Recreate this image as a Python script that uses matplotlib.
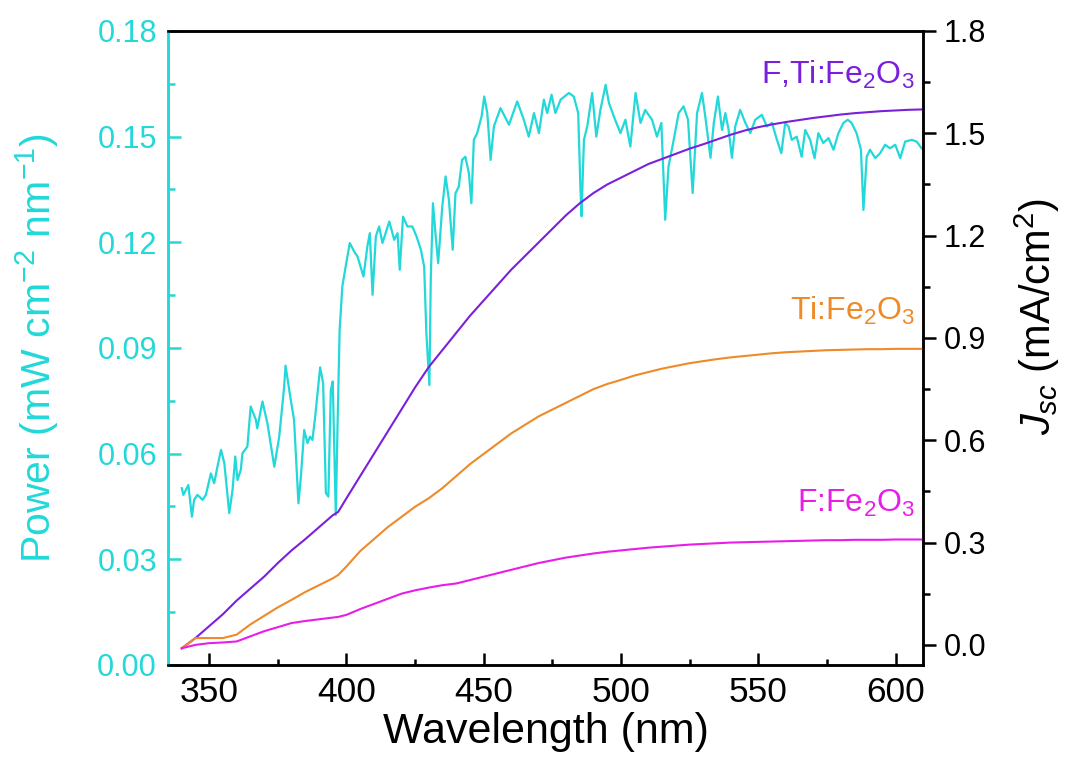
import numpy as np
import matplotlib
matplotlib.use('Agg')
import matplotlib.pyplot as plt
from matplotlib.ticker import MultipleLocator

plt.rcParams['font.family'] = ['Liberation Sans', 'DejaVu Sans']
plt.rcParams['mathtext.fontset'] = 'custom'
plt.rcParams['mathtext.rm'] = 'Liberation Sans'
plt.rcParams['mathtext.it'] = 'Liberation Sans:italic'

# Солнечный спектр
spec_wl = [340.0, 340.6, 341.5, 342.4, 343.7, 344.5, 345.7, 347.6, 348.8, 350.6,
           351.8, 353.0, 354.3, 355.5, 357.3, 358.5, 359.5, 360.3, 361.5, 362.1,
           363.9, 365.1, 367.0, 367.5, 369.4, 371.2, 373.7, 375.5, 377.3, 377.8,
           379.7, 380.9, 382.5, 383.4, 384.6, 385.8, 386.7, 387.6, 388.6, 390.4,
           391.5, 392.5, 393.4, 394.3, 395.0, 396.1, 396.8, 397.5, 398.5, 399.7,
           401.2, 402.8, 404.0, 406.2, 407.6, 408.5, 409.5, 410.7, 411.9, 413.1,
           415.6, 417.4, 418.6, 419.4, 420.6, 422.2, 424.0, 425.5, 427.1, 428.3,
           429.1, 430.2, 430.7, 431.5, 432.5, 433.4, 434.9, 436.1, 437.3, 438.7,
           439.7, 440.9, 442.1, 443.3, 444.6, 445.5, 446.4, 447.6, 449.2, 450.2,
           451.3, 452.5, 453.7, 456.1, 459.2, 462.2, 464.6, 466.4, 468.3, 470.1,
           471.9, 473.1, 474.7, 476.1, 478.0, 481.0, 482.8, 484.4, 485.2, 485.6,
           486.5, 487.7, 489.5, 491.0, 492.5, 494.4, 495.6, 497.4, 499.8, 501.6,
           503.4, 505.3, 507.1, 508.8, 511.3, 513.1, 514.7, 516.1, 517.3, 519.2,
           521.0, 522.8, 524.4, 526.1, 527.7, 529.5, 530.7, 532.6, 533.8, 535.3,
           536.8, 538.0, 539.2, 540.4, 541.6, 543.4, 545.3, 547.1, 548.9, 551.3,
           553.1, 555.0, 556.8, 558.4, 559.8, 561.0, 562.2, 564.0, 565.8, 567.1,
           568.9, 570.5, 571.9, 573.7, 575.6, 577.4, 579.2, 581.0, 582.6, 584.0,
           585.8, 587.4, 588.3, 589.5, 590.7, 592.6, 594.4, 596.2, 598.0, 599.9,
           601.7, 603.5, 605.9, 607.7, 609.5]
spec_power = [0.0502, 0.0483, 0.0497, 0.0511, 0.0421, 0.0469, 0.0483, 0.0469, 0.0483, 0.0544,
              0.0516, 0.0563, 0.0611, 0.0573, 0.0431, 0.0497, 0.0592, 0.0525, 0.0554, 0.0601,
              0.0620, 0.0734, 0.0696, 0.0672, 0.0748, 0.0686, 0.0563, 0.0648, 0.0790, 0.0850,
              0.0753, 0.0696, 0.0459, 0.0535, 0.0667, 0.0630, 0.0648, 0.0639, 0.0705, 0.0845,
              0.0800, 0.0488, 0.0478, 0.0781, 0.0805, 0.0426, 0.0700, 0.0950, 0.1075, 0.1131,
              0.1198, 0.1174, 0.1160, 0.1103, 0.1188, 0.1226, 0.1051, 0.1217, 0.1245, 0.1198,
              0.1259, 0.1207, 0.1226, 0.1122, 0.1273, 0.1245, 0.1245, 0.1217, 0.1179, 0.1131,
              0.0942, 0.0795, 0.1094, 0.1311, 0.1217, 0.1141, 0.1302, 0.1387, 0.1321, 0.1179,
              0.1339, 0.1358, 0.1434, 0.1443, 0.1396, 0.1311, 0.1491, 0.1510, 0.1557, 0.1614,
              0.1567, 0.1434, 0.1529, 0.1581, 0.1534, 0.1600, 0.1548, 0.1500, 0.1567, 0.1510,
              0.1605, 0.1567, 0.1619, 0.1567, 0.1605, 0.1624, 0.1614, 0.1567, 0.1359, 0.1274,
              0.1491, 0.1529, 0.1624, 0.1500, 0.1576, 0.1647, 0.1596, 0.1557, 0.1510, 0.1548,
              0.1472, 0.1624, 0.1539, 0.1576, 0.1548, 0.1500, 0.1539, 0.1264, 0.1415, 0.1491,
              0.1567, 0.1586, 0.1548, 0.1340, 0.1567, 0.1624, 0.1557, 0.1440, 0.1539, 0.1614,
              0.1519, 0.1567, 0.1519, 0.1440, 0.1529, 0.1576, 0.1539, 0.1510, 0.1548, 0.1562,
              0.1529, 0.1539, 0.1491, 0.1453, 0.1539, 0.1529, 0.1491, 0.1500, 0.1443, 0.1519,
              0.1491, 0.1439, 0.1510, 0.1482, 0.1496, 0.1463, 0.1510, 0.1539, 0.1548, 0.1539,
              0.1510, 0.1463, 0.1292, 0.1443, 0.1463, 0.1439, 0.1453, 0.1477, 0.1467, 0.1477,
              0.1439, 0.1486, 0.1491, 0.1486, 0.1467]

# Интегральный ток Jsc, мА/см^2
jsc_wl = [340, 345, 350, 355, 360, 365, 370, 375, 380, 385, 390, 395, 397, 400,
          405, 410, 415, 420, 425, 430, 435, 440, 445, 450, 455, 460, 465, 470,
          475, 480, 485, 490, 495, 500, 505, 510, 515, 520, 525, 530, 535, 540,
          545, 550, 555, 560, 565, 570, 575, 580, 585, 590, 595, 600, 605, 610]
jsc_fti = [-0.01, 0.02, 0.055, 0.09, 0.13, 0.165, 0.20, 0.24, 0.277, 0.31, 0.345, 0.38, 0.39, 0.43,
           0.495, 0.56, 0.625, 0.69, 0.755, 0.815, 0.865, 0.915, 0.965, 1.01, 1.055, 1.10, 1.14, 1.18,
           1.22, 1.26, 1.295, 1.325, 1.35, 1.37, 1.39, 1.41, 1.425, 1.44, 1.455, 1.468, 1.482, 1.496,
           1.508, 1.518, 1.526, 1.533, 1.539, 1.545, 1.55, 1.555, 1.559, 1.562, 1.565, 1.567, 1.569, 1.57]
jsc_ti = [-0.01, 0.02, 0.02, 0.02, 0.03, 0.06, 0.085, 0.11, 0.132, 0.155, 0.175, 0.195, 0.205, 0.23,
          0.275, 0.31, 0.345, 0.375, 0.405, 0.43, 0.46, 0.495, 0.53, 0.56, 0.59, 0.62, 0.645, 0.67,
          0.69, 0.71, 0.73, 0.75, 0.765, 0.777, 0.79, 0.80, 0.81, 0.818, 0.826, 0.832, 0.838, 0.843,
          0.847, 0.851, 0.855, 0.858, 0.86, 0.862, 0.864, 0.865, 0.866, 0.867, 0.867, 0.868, 0.868, 0.868]
jsc_f = [-0.01, 0.0, 0.005, 0.007, 0.01, 0.025, 0.04, 0.052, 0.064, 0.07, 0.075, 0.08, 0.082, 0.088,
         0.105, 0.12, 0.135, 0.15, 0.16, 0.168, 0.175, 0.18, 0.19, 0.2, 0.21, 0.22, 0.23, 0.24,
         0.248, 0.256, 0.262, 0.268, 0.273, 0.277, 0.281, 0.285, 0.288, 0.291, 0.294, 0.296, 0.298, 0.3,
         0.301, 0.302, 0.303, 0.304, 0.305, 0.306, 0.307, 0.307, 0.308, 0.308, 0.308, 0.309, 0.309, 0.309]

cyan = '#22d8d8'
purple = '#7a20dc'
orange = '#ee8a28'
magenta = '#e81ee8'

fig = plt.figure(figsize=(10.73, 7.71), dpi=100)
ax = fig.add_subplot(111)
fig.subplots_adjust(left=0.1566, right=0.8602, top=0.9598, bottom=0.1375)
ax2 = ax.twinx()

ax.plot(spec_wl, spec_power, color=cyan, lw=1.6)
ax2.plot(jsc_wl, jsc_fti, color=purple, lw=1.5)
ax2.plot(jsc_wl, jsc_ti, color=orange, lw=1.5)
ax2.plot(jsc_wl, jsc_f, color=magenta, lw=1.5)

ax.set_xlim(335, 610)
ax.set_ylim(0, 0.18)
ax2.set_ylim(-0.059, 1.8)

ax.xaxis.set_major_locator(MultipleLocator(50))
ax.xaxis.set_minor_locator(MultipleLocator(25))
ax.yaxis.set_major_locator(MultipleLocator(0.03))
ax.yaxis.set_minor_locator(MultipleLocator(0.015))
ax2.yaxis.set_major_locator(MultipleLocator(0.3))
ax2.yaxis.set_minor_locator(MultipleLocator(0.15))
ax.yaxis.set_major_formatter(matplotlib.ticker.FormatStrFormatter('%.2f'))
ax2.yaxis.set_major_formatter(matplotlib.ticker.FormatStrFormatter('%.1f'))

for a in (ax, ax2):
    for s in a.spines.values():
        s.set_linewidth(1.8)
ax.spines['left'].set_color(cyan)
ax2.spines['left'].set_color(cyan)

ax.tick_params(axis='x', which='both', direction='in', top=False, width=1.8, labelsize=25.5, pad=8)
ax.tick_params(axis='x', which='major', length=9)
ax.tick_params(axis='x', which='minor', length=4)
ax.tick_params(axis='y', which='both', direction='in', color=cyan, labelcolor=cyan, width=1.8, labelsize=22, pad=8)
ax.tick_params(axis='y', which='major', length=9)
ax.tick_params(axis='y', which='minor', length=5)
ax2.tick_params(axis='y', which='both', direction='out', width=1.8, labelsize=22, pad=6)
ax2.tick_params(axis='y', which='major', length=9)
ax2.tick_params(axis='y', which='minor', length=5)

ax.set_xlabel('Wavelength (nm)', fontsize=31, labelpad=2)
ax.set_ylabel('Power (mW cm$^{-2}$ nm$^{-1}$)', fontsize=29.5, color=cyan)
ax.yaxis.set_label_coords(-0.142, 0.5)
ax2.set_ylabel('$J_{sc}$ (mA/cm$^2$)', fontsize=30)
ax2.yaxis.set_label_coords(1.119, 0.55)

ax2.text(607, 1.67, 'F,Ti:Fe$_2$O$_3$', color=purple, fontsize=23, ha='right', va='center')
ax2.text(607, 0.98, 'Ti:Fe$_2$O$_3$', color=orange, fontsize=23, ha='right', va='center')
ax2.text(607, 0.415, 'F:Fe$_2$O$_3$', color=magenta, fontsize=23, ha='right', va='center')

plt.savefig('out.png', dpi=100)
